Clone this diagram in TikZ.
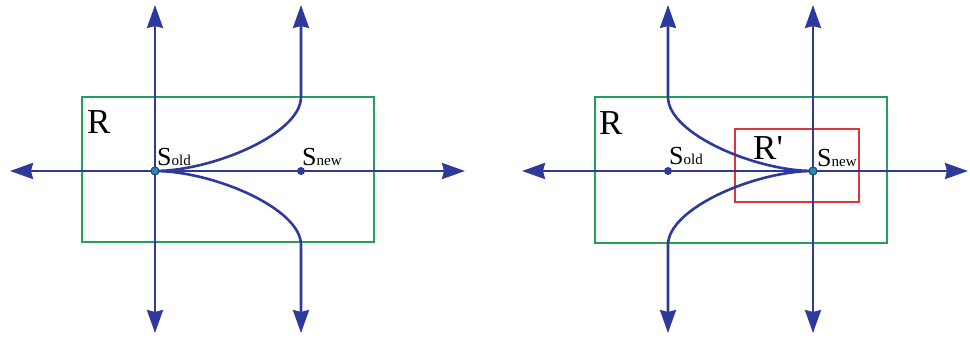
\documentclass[tikz,border=0pt]{standalone}
\usepackage{fontspec}
\setmainfont{Liberation Serif}
\usetikzlibrary{arrows.meta}

\definecolor{axisblue}{HTML}{2D3A9C}
\definecolor{regiongreen}{HTML}{22A05A}
\definecolor{regionred}{HTML}{E0343C}
\definecolor{curteal}{HTML}{1F8FA0}

\tikzset{
  head/.tip={Stealth[length=23pt,width=16pt,inset=2pt]},
  axis/.style={draw=axisblue, line width=2.6pt},
  tip/.style={-head},
  bothtips/.style={head-head},
  regionR/.style={rectangle, draw=regiongreen, line width=2.4pt, inner sep=0pt},
  regionRp/.style={rectangle, draw=regionred, line width=2.4pt, inner sep=0pt},
  pointdot/.style={circle, fill=axisblue, inner sep=0pt, minimum size=8pt},
  curdot/.style={circle, fill=curteal, draw=axisblue, line width=0.9pt, inner sep=0pt, minimum size=8pt},
  biglabel/.style={anchor=base west, inner sep=0pt, font=\fontsize{35}{35}\selectfont},
  ptlabel/.style={anchor=base west, inner sep=0pt},
}
\newcommand{\Slab}[1]{{\fontsize{26}{26}\selectfont S}{\fontsize{15}{15}\selectfont #1}}

\begin{document}
\begin{tikzpicture}[x=1pt, y=-1pt]
\useasboundingbox (0,0) rectangle (970,339);

% ---------- left panel: search region R around s_old ----------
\node[regionR, minimum width=292pt, minimum height=145pt] (R1) at (228,169.5) {};
\coordinate (l1) at (10,171);  \coordinate (r1) at (465,171);
\coordinate (t1) at (155,5);   \coordinate (b1) at (155,333);
\coordinate (t2) at (301,5);   \coordinate (b2) at (301,333);
\draw[axis, bothtips] (l1) -- (r1);
\draw[axis, bothtips] (t1) -- (b1);
\node[pointdot] (snew1) at (301,171) {};
\node[curdot] (sold1) at (155,171) {};
\draw[axis, tip] (sold1.center) .. controls (212,171) and (301,134) .. (301,97) -- (t2);
\draw[axis, tip] (sold1.center) .. controls (212,171) and (301,208) .. (301,245) -- (b2);
\node[curdot] at (sold1) {};
\node[biglabel] (Rlab1) at (87,134) {R};
\node[ptlabel] (soldlab1) at (157,166) {\Slab{old}};
\node[ptlabel] (snewlab1) at (302,166) {\Slab{new}};

% ---------- right panel: refined region R' around s_new ----------
\node[regionR, minimum width=292pt, minimum height=146pt] (R2) at (741,170) {};
\node[regionRp, minimum width=124pt, minimum height=73pt] (R3) at (797,165.5) {};
\coordinate (l2) at (522,171);  \coordinate (r2) at (968,171);
\coordinate (t3) at (668,5);    \coordinate (b3) at (668,333);
\coordinate (t4) at (813,5);    \coordinate (b4) at (813,333);
\draw[axis, bothtips] (l2) -- (r2);
\draw[axis, bothtips] (t4) -- (b4);
\node[pointdot] (sold2) at (668,171) {};
\node[curdot] (snew2) at (813,171) {};
\draw[axis, tip] (snew2.center) .. controls (756,171) and (668,134) .. (668,97) -- (t3);
\draw[axis, tip] (snew2.center) .. controls (756,171) and (668,208) .. (668,245) -- (b3);
\node[curdot] at (snew2) {};
\node[biglabel] (Rlab2) at (599,135) {R};
\node[biglabel] (Rplab) at (753,160) {R\textquotesingle};
\node[ptlabel] (soldlab2) at (669,165) {\Slab{old}};
\node[ptlabel] (snewlab2) at (817,167) {\Slab{new}};
\end{tikzpicture}
\end{document}
